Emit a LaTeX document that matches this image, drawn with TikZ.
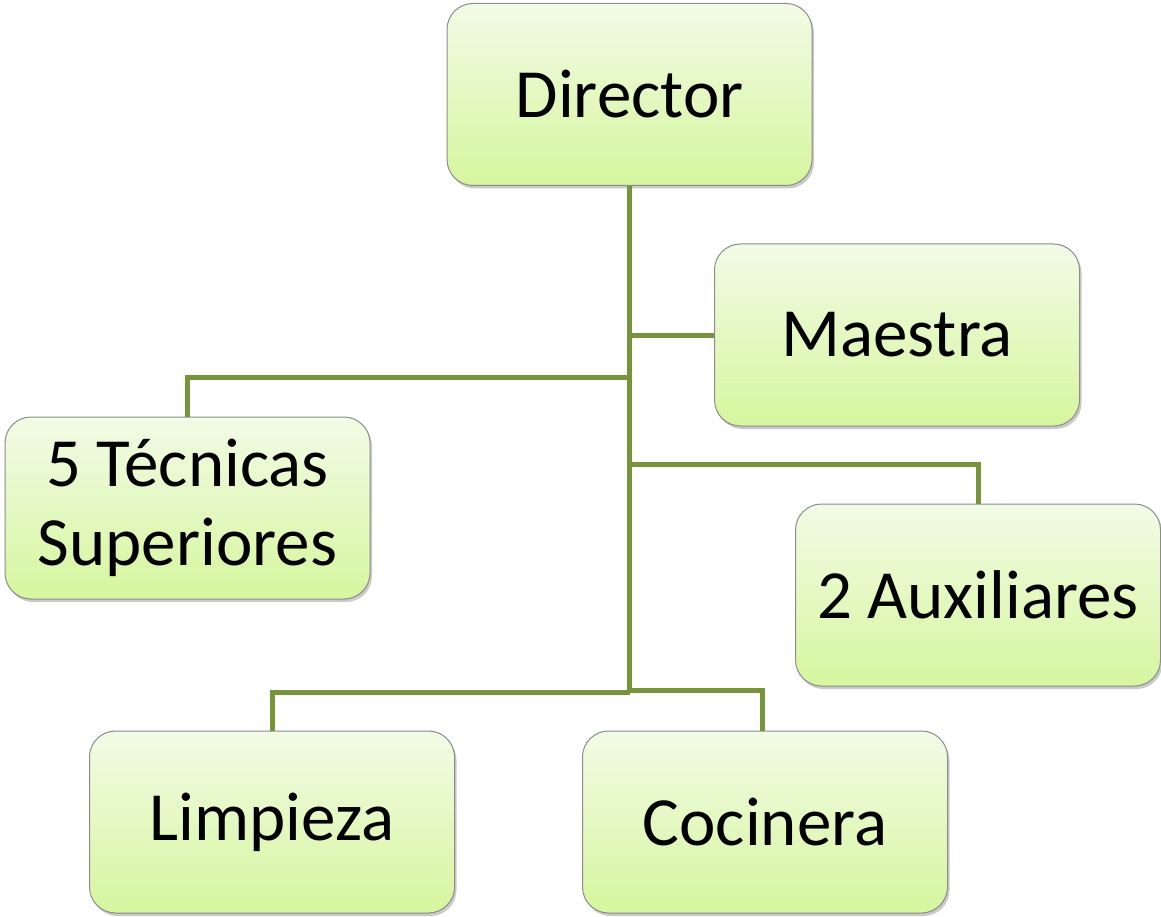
\documentclass[tikz,border=0pt]{standalone}
\usepackage{fontspec}
\setmainfont{Carlito}
\usetikzlibrary{shadows}
\definecolor{linegreen}{HTML}{77933C}
\definecolor{boxtop}{HTML}{F2FBE6}
\definecolor{boxbot}{HTML}{D6F69E}
\definecolor{boxedge}{HTML}{8C8C8C}
\tikzset{
  orgbox/.style={draw=boxedge, line width=1pt, rounded corners=26pt,
    top color=boxtop, bottom color=boxbot,
    minimum width=365pt, minimum height=182pt, inner sep=0pt,
    align=center, font=\fontsize{69}{79}\selectfont,
    drop shadow={shadow xshift=2pt, shadow yshift=-3pt, opacity=0.35, fill=black!60}},
  link/.style={draw=linegreen, line width=5pt}
}
\begin{document}
\begin{tikzpicture}[x=1pt,y=-1pt]
\useasboundingbox (0,0) rectangle (1161,917);
\node[orgbox] (dir) at (629.5,94.5) {Director};
\node[orgbox] (mae) at (897,335) {Maestra};
\node[orgbox] (tec) at (187.5,508) {5 Técnicas\\Superiores};
\node[orgbox] (aux) at (978,595) {2 Auxiliares};
\node[orgbox] (lim) at (272,822) {Limpieza};
\node[orgbox] (coc) at (765,822) {Cocinera};
\coordinate (tb) at (629.5,692);
\coordinate (cb) at (629.5,690);
\draw[link] (dir.south) -- (tb);
\draw[link] (629.5,335) -- (mae.west);
\draw[link] (629.5,377) -| (tec.north);
\draw[link] (629.5,464) -| (aux.north);
\draw[link] (tb) -| (lim.north);
\draw[link] (cb) -| ([xshift=-3pt]coc.north);
\end{tikzpicture}
\end{document}
